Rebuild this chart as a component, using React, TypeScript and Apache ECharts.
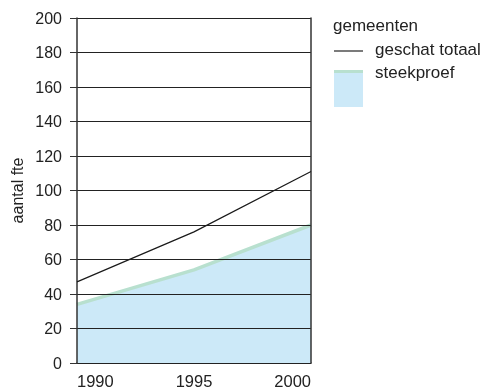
import React, { useEffect, useRef } from "react";
import * as echarts from "echarts";

const years = [1990, 1995, 2000];
const geschatTotaal = [47, 76, 111];
const steekproef = [34, 54, 80];
const yTicks = [0, 20, 40, 60, 80, 100, 120, 140, 160, 180, 200];

const FONT = "Liberation Sans, Arial, sans-serif";

export default function App() {
  const ref = useRef<HTMLDivElement>(null);
  useEffect(() => {
    if (!ref.current) return;
    const chart = echarts.init(ref.current, undefined, { renderer: "svg" });
    chart.setOption({
      animation: false,
      grid: { left: 77, right: 179, top: 18, bottom: 29, show: false },
      xAxis: {
        type: "value",
        min: years[0],
        max: years[years.length - 1],
        interval: 5,
        axisLine: { show: true, onZero: false, lineStyle: { color: "#333", width: 1.5 } },
        axisTick: { show: false },
        splitLine: { show: false },
        axisLabel: {
          color: "#222",
          fontFamily: FONT,
          fontSize: 16.5,
          margin: 9,
          alignMinLabel: "left",
          alignMaxLabel: "right",
          formatter: (v: number) => String(v),
        },
      },
      yAxis: [
        {
          type: "value",
          min: yTicks[0],
          max: yTicks[yTicks.length - 1],
          interval: 20,
          name: "aantal fte",
          nameLocation: "middle",
          nameGap: 52,
          nameRotate: 90,
          nameTextStyle: { color: "#222", fontFamily: FONT, fontSize: 16 },
          axisLine: { show: true, lineStyle: { color: "#333", width: 1.5 } },
          axisTick: { show: true, length: 7, lineStyle: { color: "#333", width: 1 } },
          splitLine: { show: true, lineStyle: { color: "#222", width: 1 } },
          axisLabel: { color: "#222", fontFamily: FONT, fontSize: 16, margin: 15 },
          z: 3,
        },
        {
          type: "value",
          min: yTicks[0],
          max: yTicks[yTicks.length - 1],
          interval: 20,
          position: "right",
          axisLine: { show: true, lineStyle: { color: "#333", width: 1.5 } },
          axisTick: { show: false },
          axisLabel: { show: false },
          splitLine: { show: false },
          z: 3,
        },
      ],
      series: [
        {
          name: "steekproef",
          type: "line",
          data: years.map((y, i) => [y, steekproef[i]]),
          symbol: "none",
          lineStyle: { color: "#b8e0cf", width: 3.5 },
          areaStyle: { color: "#cce9f8", opacity: 1 },
          z: 1,
        },
        {
          name: "geschat totaal",
          type: "line",
          data: years.map((y, i) => [y, geschatTotaal[i]]),
          symbol: "none",
          lineStyle: { color: "#1a1a1a", width: 1.2 },
          z: 4,
        },
      ],
      graphic: [
        {
          type: "text",
          x: 333,
          y: 25,
          style: { text: "gemeenten", fill: "#222", font: `17px ${FONT}`, verticalAlign: "middle" },
        },
        {
          type: "line",
          shape: { x1: 334, y1: 51, x2: 363, y2: 51 },
          style: { stroke: "#222", lineWidth: 1.2 },
        },
        {
          type: "text",
          x: 375,
          y: 49,
          style: { text: "geschat totaal", fill: "#222", font: `17px ${FONT}`, verticalAlign: "middle" },
        },
        {
          type: "rect",
          shape: { x: 334, y: 70, width: 29, height: 37 },
          style: { fill: "#cce9f8" },
        },
        {
          type: "rect",
          shape: { x: 334, y: 70, width: 29, height: 3 },
          style: { fill: "#b8e0cf" },
        },
        {
          type: "text",
          x: 375,
          y: 72,
          style: { text: "steekproef", fill: "#222", font: `17px ${FONT}`, verticalAlign: "middle" },
        },
      ],
    });
    return () => chart.dispose();
  }, []);
  return (
    <div
      ref={ref}
      style={{ position: "fixed", left: 0, top: 0, width: 490, height: 392 }}
    />
  );
}
